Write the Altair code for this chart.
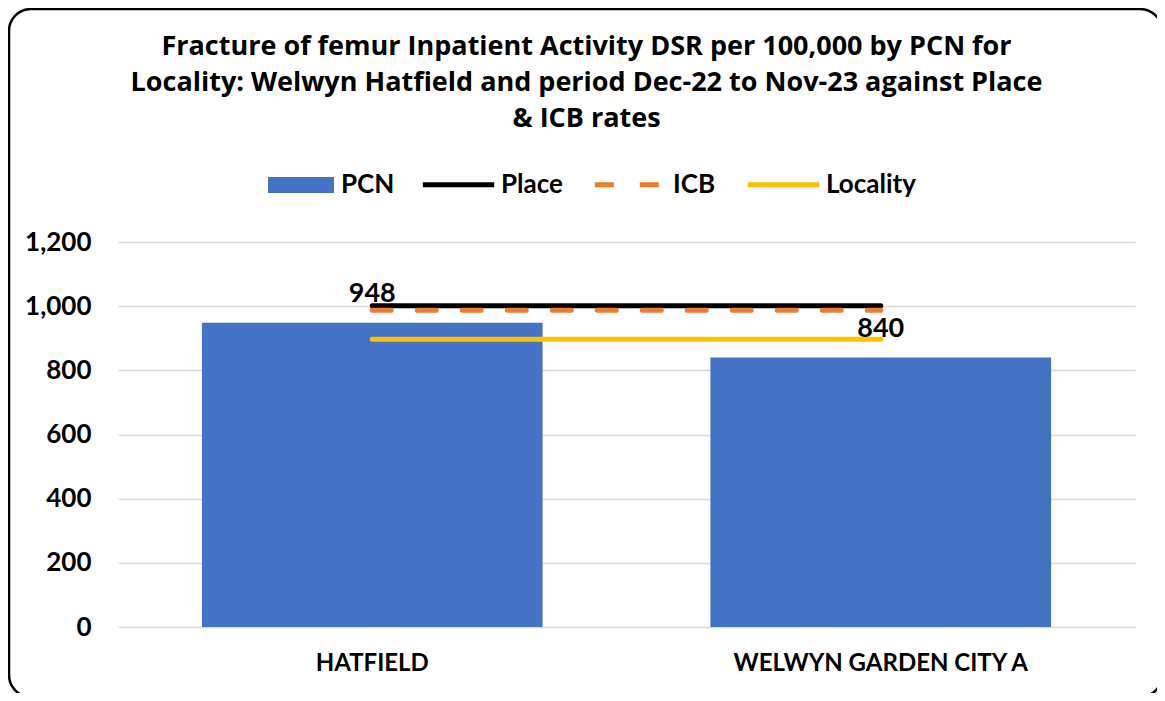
import altair as alt
import pandas as pd

categories = ["HATFIELD", "WELWYN GARDEN CITY A"]
pcn_values = [948, 840]
place_values = [1001, 1001]
icb_values = [987, 987]
locality_values = [897, 897]
bar_series = ["PCN"]
bar_colors = ["#4472C4"]
line_series = ["Place", "ICB", "Locality"]
line_colors = ["#000000", "#ED7D31", "#FFC000"]
line_dashes = [[1, 0], [19, 26], [1, 0]]
y_ticks = [0, 200, 400, 600, 800, 1000, 1200]
title_lines = [
    "Fracture of femur Inpatient Activity DSR per 100,000 by PCN for",
    "Locality: Welwyn Hatfield and period Dec-22 to Nov-23 against Place",
    "& ICB rates",
]

FONT = "Lato"
TITLE_FONT = "Open Sans"

bar_df = pd.DataFrame({"category": categories, "value": pcn_values, "series": ["PCN"] * len(categories)})
line_rows = []
for name, vals in zip(line_series, [place_values, icb_values, locality_values]):
    for c, v in zip(categories, vals):
        line_rows.append({"category": c, "value": v, "series": name})
line_df = pd.DataFrame(line_rows)
frame_df = pd.DataFrame({"k": [0]})

x_enc = alt.X(
    "category:N",
    sort=categories,
    title=None,
    scale=alt.Scale(paddingInner=0.33, paddingOuter=0.165),
    axis=alt.Axis(labelAngle=0, labelFont=FONT, labelFontSize=24, labelFontWeight="bold",
                  labelColor="#000000", labelPadding=24, labelLimit=1000,
                  ticks=False, domain=False, grid=False),
)
y_enc = alt.Y(
    "value:Q",
    title=None,
    scale=alt.Scale(domain=[0, 1200], nice=False),
    axis=alt.Axis(values=y_ticks, format=",.0f", labelFont=FONT, labelFontSize=26,
                  labelFontWeight="bold", labelColor="#000000", labelPadding=27,
                  ticks=False, domain=False, grid=True, gridColor="#d9d9d9", gridWidth=1.5),
)

frame = alt.Chart(frame_df).mark_rect(
    fill="transparent", stroke="#000000", strokeWidth=2.5, cornerRadius=22
).encode(
    x=alt.value(-109), x2=alt.value(1044), y=alt.value(-233), y2=alt.value(455)
)

bars = alt.Chart(bar_df).mark_bar().encode(
    x=x_enc,
    y=y_enc,
    fill=alt.Fill(
        "series:N",
        scale=alt.Scale(domain=bar_series, range=bar_colors),
        legend=alt.Legend(
            title=None, orient="none", direction="horizontal",
            legendX=150, legendY=-90,
            labelFont=FONT, labelFontSize=26, labelFontWeight="bold", labelColor="#000000",
            symbolType="M-1,-0.24L1,-0.24L1,0.24L-1,0.24Z", symbolSize=4356,
            symbolStrokeWidth=0, labelOffset=7,
        ),
    ),
)

labels = alt.Chart(bar_df).mark_text(
    dy=-29, font=FONT, fontSize=27, fontWeight="bold", color="#000000"
).encode(x=alt.X("category:N", sort=categories), y="value:Q", text="value:Q")

lines = alt.Chart(line_df).mark_line(strokeCap="round", strokeWidth=5).encode(
    x=alt.X("category:N", sort=categories),
    y="value:Q",
    stroke=alt.Stroke(
        "series:N",
        scale=alt.Scale(domain=line_series, range=line_colors),
        legend=alt.Legend(
            title=None, orient="none", direction="horizontal",
            legendX=302, legendY=-96,
            labelFont=FONT, labelFontSize=26, labelFontWeight="bold", labelColor="#000000",
            symbolType="stroke", symbolSize=5100, symbolStrokeWidth=5,
            labelOffset=4, columnPadding=21,
        ),
    ),
    strokeDash=alt.StrokeDash(
        "series:N",
        scale=alt.Scale(domain=line_series, range=line_dashes),
        legend=alt.Legend(title=None),
    ),
)

chart = alt.layer(frame, bars, lines, labels).properties(
    width=1017,
    height=385,
    padding={"left": 110, "top": 234, "right": 22, "bottom": 66},
    autosize=alt.AutoSizeParams(type="none"),
    title=alt.TitleParams(
        text=title_lines, font=TITLE_FONT, fontSize=27, fontWeight="bold", color="#000000",
        lineHeight=36, anchor="middle", dx=-40, offset=-125,
    ),
).configure_view(stroke=None)

chart.save("out.html", embed_options={"renderer": "svg", "actions": False})
